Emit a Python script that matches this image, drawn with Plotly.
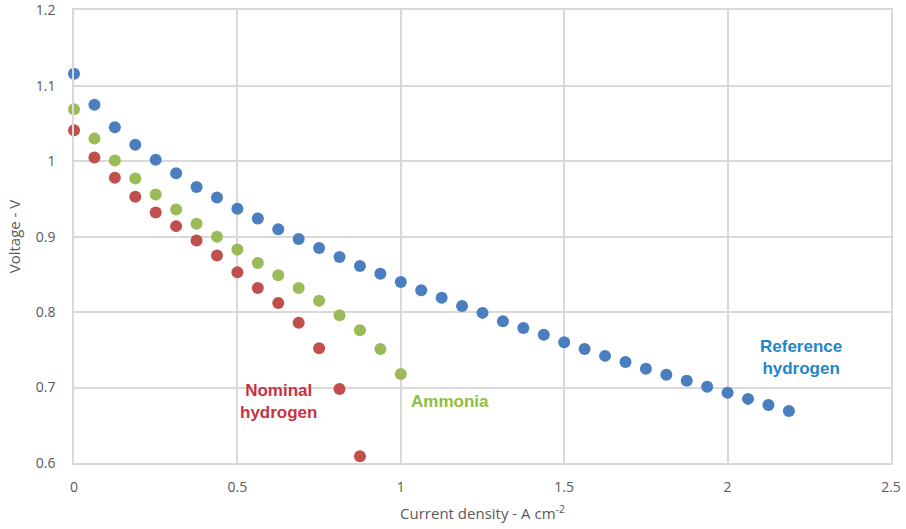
import plotly.graph_objects as go

# Current density steps (A cm^-2)
step = 0.0625
x_reference = [i * step for i in range(36)]
x_ammonia = [i * step for i in range(17)]
x_nominal = [i * step for i in range(15)]

# Cell voltages (V)
v_reference = [1.116, 1.075, 1.045, 1.022, 1.002, 0.984, 0.966, 0.952, 0.937, 0.924,
               0.910, 0.897, 0.885, 0.873, 0.861, 0.851, 0.840, 0.829, 0.819, 0.808,
               0.799, 0.788, 0.779, 0.770, 0.760, 0.751, 0.742, 0.734, 0.725, 0.717,
               0.709, 0.701, 0.693, 0.685, 0.677, 0.669]
v_ammonia = [1.069, 1.030, 1.001, 0.977, 0.956, 0.936, 0.917, 0.900, 0.883, 0.865,
             0.849, 0.832, 0.815, 0.796, 0.776, 0.751, 0.718]
v_nominal = [1.041, 1.005, 0.978, 0.953, 0.932, 0.914, 0.895, 0.875, 0.853, 0.832,
             0.812, 0.786, 0.752, 0.698, 0.609]

x_ticks = [0, 0.5, 1, 1.5, 2, 2.5]
x_tick_text = ["0", "0.5", "1", "1.5", "2", "2.5"]
y_ticks = [0.6, 0.7, 0.8, 0.9, 1.0, 1.1, 1.2]
y_tick_text = ["0.6", "0.7", "0.8", "0.9", "1", "1.1", "1.2"]

series = [
    ("Reference hydrogen", x_reference, v_reference, "#4A7EBF"),
    ("Ammonia", x_ammonia, v_ammonia, "#9BBB59"),
    ("Nominal hydrogen", x_nominal, v_nominal, "#C0504D"),
]

fig = go.Figure()
for name, xs, ys, color in series:
    fig.add_trace(go.Scatter(x=xs, y=ys, mode="markers", name=name, cliponaxis=False,
                             marker=dict(size=12, color=color)))

labels = [
    ("Nominal<br>hydrogen", 0.625, 0.682, "#C8323F"),
    ("Ammonia", 1.152, 0.681, "#8DC040"),
    ("Reference<br>hydrogen", 2.224, 0.740, "#1F86C8"),
]
for text, ax, ay, color in labels:
    bold = "<b>" + text.replace("<br>", "</b><br><b>") + "</b>"
    fig.add_annotation(x=ax, y=ay, text=bold, showarrow=False,
                       font=dict(family="Liberation Sans", size=17, color=color),
                       xanchor="center", yanchor="middle")

axis_font = dict(family="Open Sans", size=14, color="#595959")
grid = "#D9D9D9"
fig.update_layout(
    width=906, height=529,
    margin=dict(l=74, r=15, t=10, b=66),
    plot_bgcolor="white", paper_bgcolor="white",
    showlegend=False,
    xaxis=dict(range=[0, 2.5], tickmode="array", tickvals=x_ticks, ticktext=x_tick_text,
               showgrid=True, gridcolor=grid, gridwidth=1.5, zeroline=False,
               showline=True, mirror=True, linecolor=grid, linewidth=1.5,
               tickfont=axis_font, ticks="", ticklabelstandoff=10, automargin=False,
               title=dict(text="Current density - A cm<sup>-2</sup>",
                          font=dict(family="Open Sans", size=15, color="#595959"),
                          standoff=14)),
    yaxis=dict(range=[0.6, 1.2005], tickmode="array", tickvals=y_ticks, ticktext=y_tick_text,
               showgrid=True, gridcolor=grid, gridwidth=1.5, zeroline=False,
               showline=True, mirror=True, linecolor=grid, linewidth=1.5,
               tickfont=axis_font, ticks="", ticklabelstandoff=14, automargin=False,
               ticklabeloverflow="allow",
               title=dict(text="Voltage - V",
                          font=dict(family="Open Sans", size=15, color="#595959"),
                          standoff=12)),
)

fig.write_html("out.html")
